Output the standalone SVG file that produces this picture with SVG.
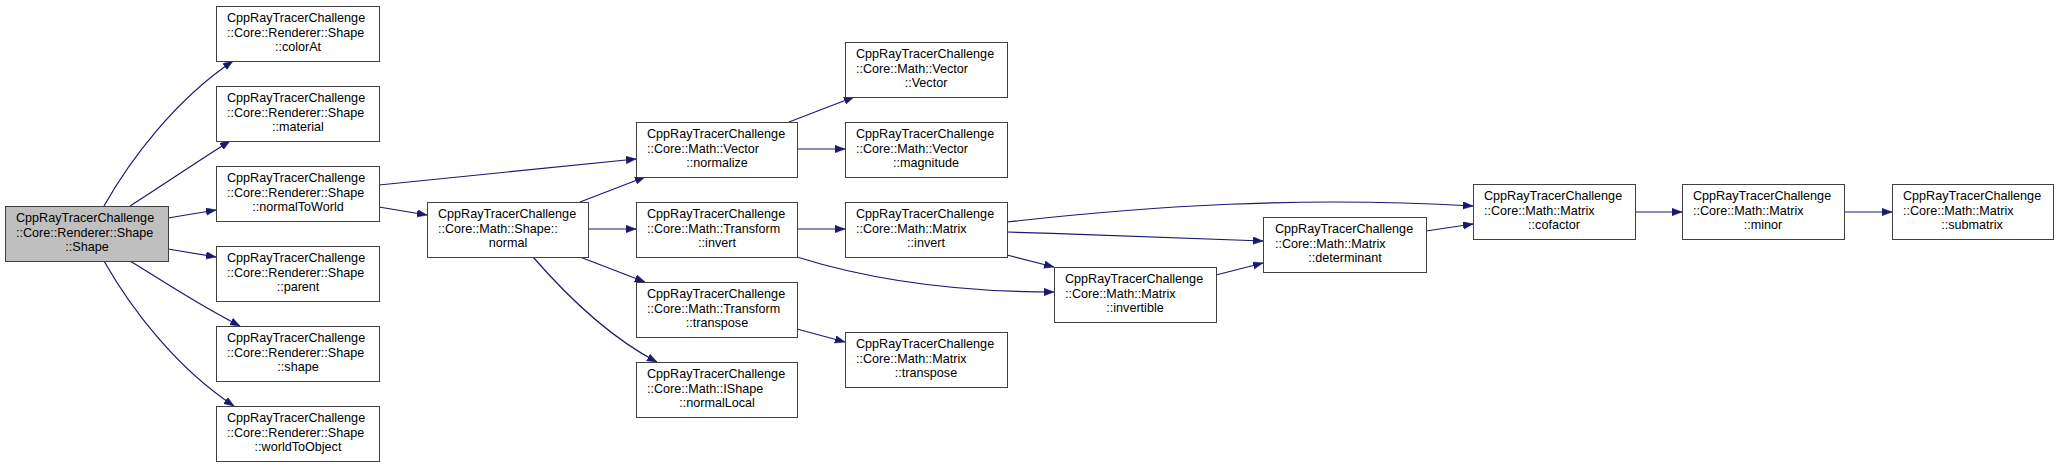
<svg xmlns="http://www.w3.org/2000/svg" width="2059" height="467" viewBox="0 0 2059 467">
<style>
.n rect{fill:#ffffff;stroke:#404040;stroke-width:1}
.n.root rect{fill:#bfbfbf}
.n text{font-family:"Liberation Sans",Arial,sans-serif;font-size:12.6px;fill:#000}
.n .c{text-anchor:middle}
.e path{fill:none;stroke:#191970;stroke-width:1.2;marker-end:url(#ah)}
</style>
<defs>
<marker id="ah" markerUnits="userSpaceOnUse" markerWidth="11" markerHeight="8" refX="10" refY="3.75" orient="auto">
<path d="M0,0 L10,3.75 L0,7.5 z" fill="#191970" stroke="#191970" stroke-width="0.5"/>
</marker>
</defs>
<rect width="2059" height="467" fill="#ffffff"/>
<g id="edges" class="e">
<path d="M104,206 C130,160 175,100 233,61"/>
<path d="M130,206 C160,187 195,163 230,141"/>
<path d="M168,218 L216,210"/>
<path d="M168,249 L216,257"/>
<path d="M130,261 C160,279 195,303 240,326"/>
<path d="M104,261 C130,307 175,367 234,406"/>
<path d="M379,185 L636,159"/>
<path d="M379,207 L427,215"/>
<path d="M580,202 L645,177"/>
<path d="M588,229 L636,229"/>
<path d="M580,257 L645,282"/>
<path d="M533,257 C560,288 605,335 657,362"/>
<path d="M789,122 L854,97"/>
<path d="M797,149 L845,149"/>
<path d="M797,229 L845,229"/>
<path d="M797,257 C870,280 960,292 1054,292"/>
<path d="M797,329 L845,342"/>
<path d="M1007,222 C1150,206 1300,196 1473,206"/>
<path d="M1007,232 C1100,235 1200,238 1263,241"/>
<path d="M1007,255 L1054,267"/>
<path d="M1216,275 L1263,263"/>
<path d="M1426,231 L1473,224"/>
<path d="M1635,212 L1682,212"/>
<path d="M1844,212 L1892,212"/>
</g>
<g id="n_shape_ctor" class="n root"><rect x="5.5" y="206.5" width="163" height="55"/><text x="16" y="222">CppRayTracerChallenge</text><text x="16" y="236.5">::Core::Renderer::Shape</text><text class="c" x="87" y="251">::Shape</text></g>
<g id="n_colorAt" class="n"><rect x="216.5" y="6.5" width="163" height="55"/><text x="227" y="22">CppRayTracerChallenge</text><text x="227" y="36.5">::Core::Renderer::Shape</text><text class="c" x="298" y="51">::colorAt</text></g>
<g id="n_material" class="n"><rect x="216.5" y="86.5" width="163" height="55"/><text x="227" y="102">CppRayTracerChallenge</text><text x="227" y="116.5">::Core::Renderer::Shape</text><text class="c" x="298" y="131">::material</text></g>
<g id="n_normalToWorld" class="n"><rect x="216.5" y="166.5" width="163" height="55"/><text x="227" y="182">CppRayTracerChallenge</text><text x="227" y="196.5">::Core::Renderer::Shape</text><text class="c" x="298" y="211">::normalToWorld</text></g>
<g id="n_parent" class="n"><rect x="216.5" y="246.5" width="163" height="55"/><text x="227" y="262">CppRayTracerChallenge</text><text x="227" y="276.5">::Core::Renderer::Shape</text><text class="c" x="298" y="291">::parent</text></g>
<g id="n_shape" class="n"><rect x="216.5" y="326.5" width="163" height="55"/><text x="227" y="342">CppRayTracerChallenge</text><text x="227" y="356.5">::Core::Renderer::Shape</text><text class="c" x="298" y="371">::shape</text></g>
<g id="n_worldToObject" class="n"><rect x="216.5" y="406.5" width="163" height="55"/><text x="227" y="422">CppRayTracerChallenge</text><text x="227" y="436.5">::Core::Renderer::Shape</text><text class="c" x="298" y="451">::worldToObject</text></g>
<g id="n_normal" class="n"><rect x="427.5" y="202.5" width="161" height="55"/><text x="438" y="218">CppRayTracerChallenge</text><text x="438" y="232.5">::Core::Math::Shape::</text><text class="c" x="508" y="247">normal</text></g>
<g id="n_vec_normalize" class="n"><rect x="636.5" y="122.5" width="161" height="55"/><text x="647" y="138">CppRayTracerChallenge</text><text x="647" y="152.5">::Core::Math::Vector</text><text class="c" x="717" y="167">::normalize</text></g>
<g id="n_tr_invert" class="n"><rect x="636.5" y="202.5" width="161" height="55"/><text x="647" y="218">CppRayTracerChallenge</text><text x="647" y="232.5">::Core::Math::Transform</text><text class="c" x="717" y="247">::invert</text></g>
<g id="n_tr_transpose" class="n"><rect x="636.5" y="282.5" width="161" height="55"/><text x="647" y="298">CppRayTracerChallenge</text><text x="647" y="312.5">::Core::Math::Transform</text><text class="c" x="717" y="327">::transpose</text></g>
<g id="n_normalLocal" class="n"><rect x="636.5" y="362.5" width="161" height="55"/><text x="647" y="378">CppRayTracerChallenge</text><text x="647" y="392.5">::Core::Math::IShape</text><text class="c" x="717" y="407">::normalLocal</text></g>
<g id="n_vec_ctor" class="n"><rect x="845.5" y="42.5" width="162" height="55"/><text x="856" y="58">CppRayTracerChallenge</text><text x="856" y="72.5">::Core::Math::Vector</text><text class="c" x="926" y="87">::Vector</text></g>
<g id="n_magnitude" class="n"><rect x="845.5" y="122.5" width="162" height="55"/><text x="856" y="138">CppRayTracerChallenge</text><text x="856" y="152.5">::Core::Math::Vector</text><text class="c" x="926" y="167">::magnitude</text></g>
<g id="n_mx_invert" class="n"><rect x="845.5" y="202.5" width="162" height="55"/><text x="856" y="218">CppRayTracerChallenge</text><text x="856" y="232.5">::Core::Math::Matrix</text><text class="c" x="926" y="247">::invert</text></g>
<g id="n_mx_transpose" class="n"><rect x="845.5" y="332.5" width="162" height="55"/><text x="856" y="348">CppRayTracerChallenge</text><text x="856" y="362.5">::Core::Math::Matrix</text><text class="c" x="926" y="377">::transpose</text></g>
<g id="n_invertible" class="n"><rect x="1054.5" y="267.5" width="162" height="55"/><text x="1065" y="283">CppRayTracerChallenge</text><text x="1065" y="297.5">::Core::Math::Matrix</text><text class="c" x="1135" y="312">::invertible</text></g>
<g id="n_determinant" class="n"><rect x="1263.5" y="217.5" width="163" height="55"/><text x="1275" y="233">CppRayTracerChallenge</text><text x="1275" y="247.5">::Core::Math::Matrix</text><text class="c" x="1345" y="262">::determinant</text></g>
<g id="n_cofactor" class="n"><rect x="1473.5" y="184.5" width="162" height="55"/><text x="1484" y="200">CppRayTracerChallenge</text><text x="1484" y="214.5">::Core::Math::Matrix</text><text class="c" x="1554" y="229">::cofactor</text></g>
<g id="n_minor" class="n"><rect x="1682.5" y="184.5" width="162" height="55"/><text x="1693" y="200">CppRayTracerChallenge</text><text x="1693" y="214.5">::Core::Math::Matrix</text><text class="c" x="1763" y="229">::minor</text></g>
<g id="n_submatrix" class="n"><rect x="1892.5" y="184.5" width="161" height="55"/><text x="1903" y="200">CppRayTracerChallenge</text><text x="1903" y="214.5">::Core::Math::Matrix</text><text class="c" x="1972" y="229">::submatrix</text></g>
</svg>
